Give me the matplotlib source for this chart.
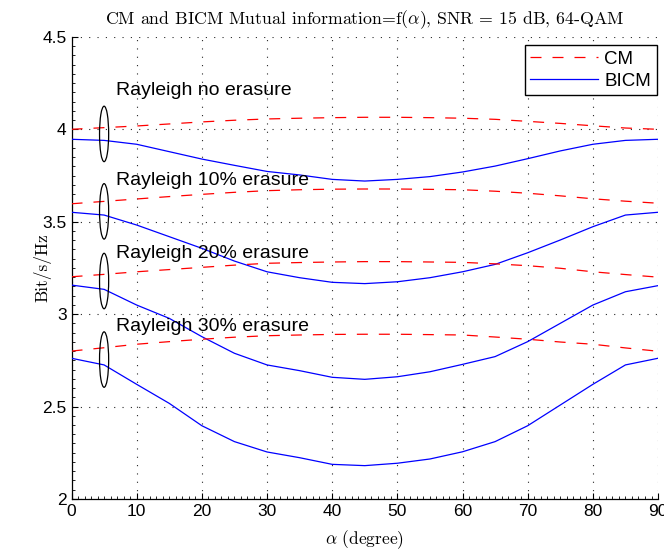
import numpy as np
import matplotlib
matplotlib.use("Agg")
import matplotlib.pyplot as plt
from matplotlib.patches import Ellipse
from matplotlib.ticker import MultipleLocator, FuncFormatter

plt.rcParams['font.family'] = ['Liberation Sans', 'DejaVu Sans']
plt.rcParams['mathtext.fontset'] = 'cm'

alpha = [0, 5, 10, 15, 20, 25, 30, 35, 40, 45, 50, 55, 60, 65, 70, 75, 80, 85, 90]

cm_0 = [4.000, 4.009, 4.018, 4.029, 4.040, 4.049, 4.056, 4.060, 4.063, 4.065,
        4.065, 4.063, 4.060, 4.054, 4.043, 4.032, 4.019, 4.007, 4.000]
bicm_0 = [3.946, 3.940, 3.919, 3.879, 3.839, 3.805, 3.772, 3.753, 3.729, 3.720,
          3.729, 3.744, 3.769, 3.801, 3.841, 3.883, 3.919, 3.940, 3.946]
cm_10 = [3.597, 3.610, 3.623, 3.636, 3.648, 3.659, 3.668, 3.673, 3.676, 3.677,
         3.677, 3.675, 3.673, 3.665, 3.654, 3.640, 3.624, 3.611, 3.600]
bicm_10 = [3.551, 3.536, 3.482, 3.419, 3.356, 3.287, 3.229, 3.197, 3.172, 3.165,
           3.175, 3.197, 3.229, 3.269, 3.332, 3.401, 3.473, 3.536, 3.551]
cm_20 = [3.202, 3.215, 3.229, 3.241, 3.253, 3.265, 3.275, 3.279, 3.282, 3.284,
         3.284, 3.282, 3.280, 3.272, 3.262, 3.248, 3.229, 3.214, 3.200]
bicm_20 = [3.157, 3.134, 3.049, 2.977, 2.878, 2.788, 2.725, 2.694, 2.658, 2.647,
           2.661, 2.688, 2.728, 2.770, 2.851, 2.950, 3.049, 3.121, 3.154]
cm_30 = [2.800, 2.818, 2.837, 2.851, 2.864, 2.875, 2.883, 2.887, 2.890, 2.891,
         2.891, 2.889, 2.887, 2.876, 2.864, 2.849, 2.837, 2.817, 2.799]
bicm_30 = [2.761, 2.725, 2.620, 2.517, 2.396, 2.310, 2.254, 2.223, 2.187, 2.180,
           2.193, 2.216, 2.255, 2.310, 2.396, 2.508, 2.620, 2.725, 2.761]

labels = ["Rayleigh no erasure", "Rayleigh 10% erasure",
          "Rayleigh 20% erasure", "Rayleigh 30% erasure"]
label_y = [4.186, 3.697, 3.302, 2.910]
ellipse_y = [3.975, 3.556, 3.179, 2.754]

fig = plt.figure(figsize=(6.64, 5.5), dpi=100)
ax = fig.add_axes([0.1077, 0.0929, 0.8833, 0.8400])

cm_all = [cm_0, cm_10, cm_20, cm_30]
bicm_all = [bicm_0, bicm_10, bicm_20, bicm_30]
for i, (c, b) in enumerate(zip(cm_all, bicm_all)):
    ax.plot(alpha, c, color='#ff0000', lw=0.9, linestyle=(0, (8.8, 8.8)),
            label='CM' if i == 0 else None, zorder=3)
    ax.plot(alpha, b, color='#0000ff', lw=0.9,
            label='BICM' if i == 0 else None, zorder=3)

for t, ty, ey in zip(labels, label_y, ellipse_y):
    ax.text(6.78, ty, t, fontsize=14, va='baseline', ha='left')
    ax.add_patch(Ellipse((5.0, ey), 1.4, 0.30, fill=False, edgecolor='black', lw=0.9, zorder=4))

ax.set_xlim(0, 90)
ax.set_ylim(2, 4.5)
ax.xaxis.set_major_locator(MultipleLocator(10))
ax.yaxis.set_major_locator(MultipleLocator(0.5))
ax.xaxis.set_minor_locator(MultipleLocator(1))
ax.yaxis.set_minor_locator(MultipleLocator(0.05))
ax.yaxis.set_major_formatter(FuncFormatter(lambda v, p: f"{v:g}"))
ax.tick_params(which='both', direction='in', labelsize=12.5)
ax.tick_params(which='major', length=4, width=0.8)
ax.tick_params(which='minor', length=2, width=0.6)
ax.spines['top'].set_visible(False)
ax.spines['right'].set_visible(False)
ax.spines['left'].set_linewidth(0.9)
ax.spines['bottom'].set_linewidth(0.9)
ax.grid(True, which='major', color='0.15', linestyle=(0, (1, 6.5)), lw=0.8)

ax.set_title(r"CM and BICM Mutual information=f($\alpha$), SNR = 15 dB, 64-QAM",
             family='cmr10', fontsize=12.8, pad=9)
ax.set_xlabel(r"$\alpha$ (degree)", family='cmr10', fontsize=12.5, labelpad=7)
ax.set_ylabel("Bit/s/Hz", family='cmr10', fontsize=12.5)
ax.yaxis.set_label_coords(-0.035, 0.5)

leg = ax.legend(loc='upper right', bbox_to_anchor=(0.998, 0.9825), borderaxespad=0,
                fontsize=13.5, handlelength=3.6, handletextpad=0.35, fancybox=False,
                framealpha=1, edgecolor='black', borderpad=0.3, labelspacing=0.25)
leg.get_frame().set_linewidth(1.0)

fig.savefig("out.png", dpi=100)
